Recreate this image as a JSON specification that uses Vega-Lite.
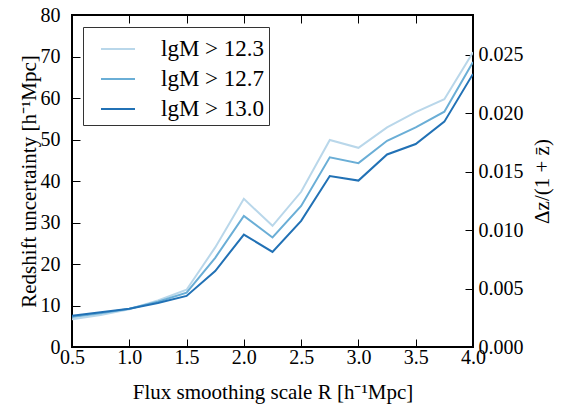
{
  "$schema": "https://vega.github.io/schema/vega-lite/v6.json",
  "width": 401,
  "height": 332,
  "autosize": "none",
  "padding": {"left": 72, "top": 15, "right": 99, "bottom": 61},
  "background": "white",
  "config": {
    "font": "Liberation Serif, Times New Roman, serif",
    "view": {"stroke": "black", "strokeWidth": 2},
    "legend": {"labelFont": "Liberation Serif, Times New Roman, serif"},
    "axis": {
      "labelFont": "Liberation Serif, Times New Roman, serif",
      "titleFont": "Liberation Serif, Times New Roman, serif",
      "labelFontSize": 20,
      "titleFontSize": 21,
      "labelColor": "black",
      "titleColor": "black",
      "titleFontWeight": "normal",
      "grid": false,
      "domain": false,
      "tickColor": "black",
      "tickSize": -8,
      "tickWidth": 1
    }
  },
  "datasets": {
    "curves": [
      {"R": 0.5, "sigma": 6.7, "group": "lgM > 12.3"},
      {"R": 0.75, "sigma": 7.7, "group": "lgM > 12.3"},
      {"R": 1.0, "sigma": 9.1, "group": "lgM > 12.3"},
      {"R": 1.25, "sigma": 11.2, "group": "lgM > 12.3"},
      {"R": 1.5, "sigma": 13.8, "group": "lgM > 12.3"},
      {"R": 1.75, "sigma": 24.0, "group": "lgM > 12.3"},
      {"R": 2.0, "sigma": 35.7, "group": "lgM > 12.3"},
      {"R": 2.25, "sigma": 29.2, "group": "lgM > 12.3"},
      {"R": 2.5, "sigma": 37.4, "group": "lgM > 12.3"},
      {"R": 2.75, "sigma": 49.9, "group": "lgM > 12.3"},
      {"R": 3.0, "sigma": 48.0, "group": "lgM > 12.3"},
      {"R": 3.25, "sigma": 52.9, "group": "lgM > 12.3"},
      {"R": 3.5, "sigma": 56.6, "group": "lgM > 12.3"},
      {"R": 3.75, "sigma": 59.7, "group": "lgM > 12.3"},
      {"R": 4.0, "sigma": 71.0, "group": "lgM > 12.3"},
      {"R": 0.5, "sigma": 7.2, "group": "lgM > 12.7"},
      {"R": 0.75, "sigma": 8.1, "group": "lgM > 12.7"},
      {"R": 1.0, "sigma": 9.2, "group": "lgM > 12.7"},
      {"R": 1.25, "sigma": 10.9, "group": "lgM > 12.7"},
      {"R": 1.5, "sigma": 13.1, "group": "lgM > 12.7"},
      {"R": 1.75, "sigma": 21.5, "group": "lgM > 12.7"},
      {"R": 2.0, "sigma": 31.6, "group": "lgM > 12.7"},
      {"R": 2.25, "sigma": 26.4, "group": "lgM > 12.7"},
      {"R": 2.5, "sigma": 34.0, "group": "lgM > 12.7"},
      {"R": 2.75, "sigma": 45.7, "group": "lgM > 12.7"},
      {"R": 3.0, "sigma": 44.3, "group": "lgM > 12.7"},
      {"R": 3.25, "sigma": 49.7, "group": "lgM > 12.7"},
      {"R": 3.5, "sigma": 52.9, "group": "lgM > 12.7"},
      {"R": 3.75, "sigma": 56.7, "group": "lgM > 12.7"},
      {"R": 4.0, "sigma": 68.7, "group": "lgM > 12.7"},
      {"R": 0.5, "sigma": 7.5, "group": "lgM > 13.0"},
      {"R": 0.75, "sigma": 8.4, "group": "lgM > 13.0"},
      {"R": 1.0, "sigma": 9.2, "group": "lgM > 13.0"},
      {"R": 1.25, "sigma": 10.6, "group": "lgM > 13.0"},
      {"R": 1.5, "sigma": 12.3, "group": "lgM > 13.0"},
      {"R": 1.75, "sigma": 18.3, "group": "lgM > 13.0"},
      {"R": 2.0, "sigma": 27.1, "group": "lgM > 13.0"},
      {"R": 2.25, "sigma": 22.9, "group": "lgM > 13.0"},
      {"R": 2.5, "sigma": 30.4, "group": "lgM > 13.0"},
      {"R": 2.75, "sigma": 41.2, "group": "lgM > 13.0"},
      {"R": 3.0, "sigma": 40.1, "group": "lgM > 13.0"},
      {"R": 3.25, "sigma": 46.4, "group": "lgM > 13.0"},
      {"R": 3.5, "sigma": 48.9, "group": "lgM > 13.0"},
      {"R": 3.75, "sigma": 54.3, "group": "lgM > 13.0"},
      {"R": 4.0, "sigma": 65.8, "group": "lgM > 13.0"}
    ],
    "rightaxis": [{"R": 0.5, "dz": 0}]
  },
  "layer": [
    {
      "data": {"name": "curves"},
      "mark": {"type": "line", "strokeWidth": 2, "clip": true},
      "encoding": {
        "x": {
          "field": "R", "type": "quantitative",
          "scale": {"domain": [0.5, 4.0], "nice": false, "zero": false},
          "axis": {"title": "Flux smoothing scale R [h⁻¹Mpc]", "values": [0.5, 1.0, 1.5, 2.0, 2.5, 3.0, 3.5, 4.0], "format": ".1f", "labelPadding": 8, "titlePadding": 14, "labelFlush": false}
        },
        "y": {
          "field": "sigma", "type": "quantitative",
          "scale": {"domain": [0, 80], "nice": false},
          "axis": {"title": "Redshift uncertainty [h⁻¹Mpc]", "values": [0, 10, 20, 30, 40, 50, 60, 70, 80], "labelPadding": 20, "titlePadding": 1, "labelFlush": false}
        },
        "color": {
          "field": "group", "type": "nominal",
          "scale": {"domain": ["lgM > 12.3", "lgM > 12.7", "lgM > 13.0"], "range": ["#b9d7ea", "#6aaed6", "#2171b5"]},
          "legend": {
            "title": null,
            "orient": "none",
            "legendX": 11,
            "legendY": 12,
            "symbolType": "stroke",
            "symbolSize": 1156,
            "symbolStrokeWidth": 2,
            "symbolOffset": 13,
            "labelFont": "Liberation Serif, Times New Roman, serif",
            "labelFontSize": 23,
            "labelColor": "black",
            "labelOffset": 25,
            "rowPadding": 0,
            "padding": 4,
            "strokeColor": "#333333",
            "fillColor": "white",
            "cornerRadius": 0
          }
        }
      }
    },
    {
      "data": {"name": "curves"},
      "mark": {"type": "rule", "opacity": 0},
      "encoding": {
        "x": {"field": "R", "type": "quantitative", "axis": {"orient": "top", "labels": false, "title": null, "values": [0.5, 1.0, 1.5, 2.0, 2.5, 3.0, 3.5, 4.0]}}
      }
    },
    {
      "data": {"name": "rightaxis"},
      "mark": {"type": "point", "opacity": 0},
      "encoding": {
        "x": {"field": "R", "type": "quantitative", "axis": null},
        "y": {
          "field": "dz", "type": "quantitative",
          "scale": {"domain": [0, 0.02842], "nice": false},
          "axis": {"orient": "right", "title": "Δz/(1 + z̄)", "titleAngle": -90, "titleBaseline": "top", "values": [0, 0.005, 0.01, 0.015, 0.02, 0.025], "format": ".3f", "labelPadding": 13, "titlePadding": 8, "labelFlush": false}
        }
      }
    }
  ],
  "resolve": {"scale": {"y": "independent"}, "axis": {"x": "independent"}}
}
